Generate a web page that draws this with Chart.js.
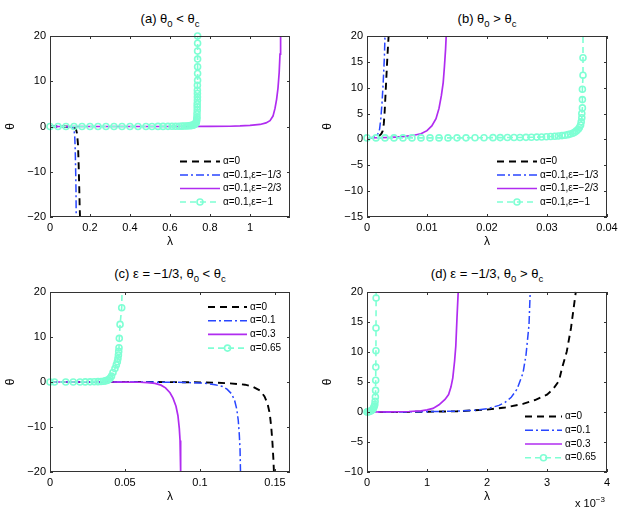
<!DOCTYPE html>
<html><head><meta charset="utf-8">
<script src="https://cdn.jsdelivr.net/npm/chart.js@4.4.1/dist/chart.umd.min.js"></script>
<style>
html,body{margin:0;padding:0;background:#fff;}
body{width:625px;height:510px;position:relative;overflow:hidden;font-family:"Liberation Sans",Arial,sans-serif;color:#000;}
.pane{position:absolute;}
.pane canvas{display:block;}
.ttl{position:absolute;text-align:center;font-size:13px;line-height:15px;white-space:nowrap;}
.ttl sub{font-size:9.5px;vertical-align:-4px;line-height:0;}
.exp{position:absolute;font-size:11px;line-height:13px;white-space:nowrap;}
.exp sup{font-size:8px;vertical-align:5px;line-height:0;}
</style></head><body>
<div class="ttl" style="left:50px;width:240px;top:11px">(a) θ<sub>0</sub> &lt; θ<sub>c</sub></div>
<div class="ttl" style="left:367px;width:240px;top:11px">(b) θ<sub>0</sub> &gt; θ<sub>c</sub></div>
<div class="ttl" style="left:50px;width:240px;top:266px">(c) ε = −1/3, θ<sub>0</sub> &lt; θ<sub>c</sub></div>
<div class="ttl" style="left:367px;width:240px;top:266px">(d) ε = −1/3, θ<sub>0</sub> &gt; θ<sub>c</sub></div>
<div class="pane" style="left:0;top:0"><canvas id="ca" width="310" height="255"></canvas></div>
<div class="pane" style="left:310px;top:0"><canvas id="cb" width="315" height="255"></canvas></div>
<div class="pane" style="left:0;top:255px"><canvas id="cc" width="310" height="255"></canvas></div>
<div class="pane" style="left:310px;top:255px"><canvas id="cd" width="315" height="255"></canvas></div>
<div class="exp" style="left:575px;top:497px">x 10<sup>−3</sup></div>
<script>
// ---------- Panel (a): theta0 < thetac ----------
const aLabels = ['α=0', 'α=0.1,ε=−1/3', 'α=0.1,ε=−2/3', 'α=0.1,ε=−1'];
const aXTicks = [0, 0.2, 0.4, 0.6, 0.8, 1];
const aYTicks = [-20, -10, 0, 10, 20];
const aX0 = [0, 0.05, 0.1, 0.12, 0.13, 0.135, 0.14, 0.143, 0.146, 0.148, 0.15];
const aY0 = [0, 0, -0.05, -0.2, -0.6, -1.5, -4, -8, -13, -17, -20];
const aX1 = [0, 0.05, 0.1, 0.11, 0.117, 0.121, 0.124, 0.126, 0.128, 0.13, 0.131];
const aY1 = [0, 0, -0.05, -0.15, -0.4, -1, -2.5, -5, -9, -14, -20];
const aX2 = [0, 0.2, 0.4, 0.6, 0.8, 0.9, 0.95, 1.0, 1.05, 1.08, 1.1, 1.115, 1.125, 1.133, 1.14, 1.146, 1.15, 1.153];
const aY2 = [0, 0, 0, 0, 0.02, 0.06, 0.12, 0.25, 0.45, 0.8, 1.3, 2.3, 4, 6, 8.5, 12, 16, 20];
const aX3 = [0, 0.04, 0.08, 0.12, 0.16, 0.2, 0.24, 0.28, 0.32, 0.36, 0.4, 0.44, 0.48, 0.51, 0.54, 0.565, 0.59, 0.61, 0.628, 0.645, 0.66, 0.672, 0.683, 0.693, 0.702, 0.709, 0.715, 0.72, 0.724, 0.727, 0.73, 0.732, 0.733, 0.734, 0.735, 0.735, 0.736, 0.736, 0.736, 0.737, 0.737, 0.737, 0.737, 0.737, 0.738, 0.738, 0.738, 0.738, 0.738, 0.738, 0.738];
const aY3 = [0, 0, 0, 0, 0, 0, 0, 0, 0, 0, 0, 0, 0.01, 0.01, 0.02, 0.02, 0.03, 0.04, 0.05, 0.06, 0.08, 0.1, 0.12, 0.15, 0.19, 0.24, 0.3, 0.38, 0.48, 0.6, 0.8, 1.05, 1.3, 1.7, 2.1, 2.8, 3.6, 4.3, 5, 5.8, 6.5, 7.3, 8, 9.1, 10.2, 11.7, 13.2, 14.9, 16.7, 18.4, 20];

// ---------- Panel (b): theta0 > thetac ----------
const bLabels = ['α=0', 'α=0.1,ε=−1/3', 'α=0.1,ε=−2/3', 'α=0.1,ε=−1'];
const bXTicks = [0, 0.01, 0.02, 0.03, 0.04];
const bYTicks = [-15, -10, -5, 0, 5, 10, 15, 20];
const bX0 = [0, 0.001, 0.0017, 0.0021, 0.0024, 0.0026, 0.0028, 0.00295, 0.0031, 0.00325, 0.0034, 0.0036];
const bY0 = [0.3, 0.35, 0.5, 0.75, 1.1, 1.6, 3, 5.5, 9, 12.5, 16, 20];
const bX1 = [0, 0.0008, 0.0013, 0.0016, 0.0019, 0.0021, 0.0023, 0.0025, 0.0027, 0.0029, 0.003];
const bY1 = [0.3, 0.35, 0.5, 0.75, 1.2, 2, 4, 7, 11, 16, 20];
const bX2 = [0, 0.002, 0.004, 0.006, 0.008, 0.009, 0.01, 0.0108, 0.0115, 0.012, 0.0124, 0.0127, 0.0129, 0.0131, 0.0132];
const bY2 = [0.3, 0.32, 0.4, 0.55, 0.85, 1.1, 1.7, 2.6, 4, 6, 8.5, 11, 14, 17.5, 20];
const bX3 = [0, 0.0015, 0.003, 0.0045, 0.006, 0.0075, 0.009, 0.0105, 0.012, 0.0135, 0.015, 0.0165, 0.018, 0.0195, 0.021, 0.0222, 0.0234, 0.0245, 0.0255, 0.0265, 0.0274, 0.0283, 0.0291, 0.0299, 0.0306, 0.0313, 0.0319, 0.0325, 0.033, 0.0335, 0.0339, 0.0343, 0.0346, 0.0349, 0.0352, 0.0354, 0.0356, 0.0357, 0.0358, 0.0358, 0.0359, 0.0359, 0.0359, 0.036, 0.036, 0.036];
const bY3 = [0.3, 0.3, 0.3, 0.3, 0.3, 0.3, 0.3, 0.3, 0.3, 0.3, 0.31, 0.31, 0.32, 0.33, 0.34, 0.35, 0.36, 0.37, 0.38, 0.4, 0.42, 0.45, 0.48, 0.52, 0.56, 0.61, 0.67, 0.74, 0.82, 0.92, 1.05, 1.2, 1.4, 1.65, 1.95, 2.3, 2.8, 3.4, 4.2, 5, 6.1, 7.7, 9.7, 12.4, 15.8, 20];

// ---------- Panel (c): eps = -1/3, theta0 < thetac ----------
const cLabels = ['α=0', 'α=0.1', 'α=0.3', 'α=0.65'];
const cXTicks = [0, 0.05, 0.1, 0.15];
const cYTicks = [-20, -10, 0, 10, 20];
const cX0 = [0, 0.02, 0.04, 0.06, 0.08, 0.1, 0.11, 0.12, 0.13, 0.135, 0.14, 0.143, 0.145, 0.1465, 0.1475, 0.1483, 0.1489, 0.1493];
const cY0 = [0, 0, 0, 0, -0.02, -0.08, -0.15, -0.3, -0.6, -1, -1.9, -3.2, -4.8, -7, -10, -13.5, -17, -20];
const cX1 = [0, 0.02, 0.04, 0.06, 0.08, 0.09, 0.1, 0.105, 0.11, 0.115, 0.118, 0.121, 0.123, 0.1245, 0.1255, 0.1262, 0.1267, 0.127];
const cY1 = [0, 0, 0, 0, -0.05, -0.1, -0.2, -0.35, -0.6, -1, -1.6, -2.6, -4, -6, -8.5, -11.7, -15, -20];
const cX2 = [0, 0.02, 0.04, 0.05, 0.06, 0.065, 0.07, 0.074, 0.077, 0.08, 0.082, 0.084, 0.0853, 0.0862, 0.0867, 0.087, 0.0872];
const cY2 = [0, 0, 0, -0.02, -0.06, -0.12, -0.3, -0.7, -1.3, -2.4, -3.6, -5.4, -7.5, -10.3, -13, -16, -20];
const cX3 = [0, 0.003, 0.0105, 0.0155, 0.02, 0.0235, 0.0267, 0.0295, 0.032, 0.034, 0.0357, 0.037, 0.038, 0.039, 0.04, 0.041, 0.042, 0.0433, 0.0442, 0.0449, 0.0453, 0.0456, 0.0458, 0.046, 0.0462, 0.0467, 0.0478, 0.048];
const cY3 = [0, 0, 0, 0, 0.01, 0.02, 0.03, 0.05, 0.08, 0.12, 0.18, 0.26, 0.36, 0.5, 0.8, 1.3, 2.1, 3, 3.8, 4.5, 5.2, 6, 6.8, 7.6, 9.7, 12.8, 16.5, 20];

// ---------- Panel (d): eps = -1/3, theta0 > thetac ----------
const dLabels = ['α=0', 'α=0.1', 'α=0.3', 'α=0.65'];
const dXTicks = [0, 0.001, 0.002, 0.003, 0.004];
const dYTicks = [-10, -5, 0, 5, 10, 15, 20];
const dX0 = [0, 0.0005, 0.001, 0.0015, 0.002, 0.0023, 0.0026, 0.0028, 0.003, 0.0031, 0.0032, 0.00325, 0.00333, 0.0034, 0.00348];
const dY0 = [0, 0, 0.05, 0.12, 0.4, 0.75, 1.35, 2, 2.9, 3.8, 5.2, 7.3, 10.1, 14, 20];
const dX1 = [0, 0.0005, 0.001, 0.0015, 0.0018, 0.002, 0.0022, 0.0023, 0.0024, 0.0025, 0.0026, 0.00265, 0.0027, 0.00272];
const dY1 = [0, 0, 0.05, 0.15, 0.3, 0.55, 1.1, 1.6, 2.4, 3.8, 6.5, 9.5, 14.5, 20];
const dX2 = [0, 0.0004, 0.0007, 0.0009, 0.001, 0.0011, 0.0012, 0.0013, 0.00136, 0.0014, 0.00143, 0.00146, 0.00148, 0.0015, 0.00152];
const dY2 = [0, 0.02, 0.08, 0.2, 0.35, 0.6, 1.2, 2.1, 2.9, 4.2, 5.7, 8.5, 11, 15.7, 20];
const dX3 = [0, 0.00001, 0.00003, 0.00005, 0.00007, 0.00009, 0.0001, 0.00011, 0.00012, 0.00013, 0.000135, 0.00014, 0.000143, 0.000145, 0.000147, 0.000149, 0.00015, 0.000152, 0.000153];
const dY3 = [0, 0.02, 0.06, 0.12, 0.22, 0.36, 0.5, 0.7, 0.95, 1.25, 1.8, 2.5, 3.6, 5.3, 7.5, 10.2, 14, 19, 20];

// ---------- rendering ----------
const FONT = '"Liberation Sans", Arial, sans-serif';
Chart.defaults.font.family = FONT;
Chart.defaults.color = '#000';
const MARKER_R = 3;

const STYLES = [
  { borderColor: '#000000', borderWidth: 1.9, borderDash: [7, 5], pointRadius: 0, order: 3 },
  { borderColor: '#2846ff', borderWidth: 1.5, borderDash: [8, 3, 2, 3], pointRadius: 0, order: 2 },
  { borderColor: '#b02cf0', borderWidth: 1.7, borderDash: [], pointRadius: 0, order: 1 },
  { borderColor: '#7fffd4', borderWidth: 1.6, borderDash: [6, 4], marker: true, order: 0,
    pointBorderColor: '#7fffd4', pointBackgroundColor: 'rgba(0,0,0,0)', pointBorderWidth: 1.6 }
];

const fmt = v => String(Math.round(v * 1e6) / 1e6).replace('-', '\u2212');

const boxPlugin = {
  id: 'mbox',
  afterDatasetsDraw(chart) {
    const { ctx, chartArea: a, scales } = chart;
    ctx.save();
    ctx.strokeStyle = '#333';
    ctx.lineWidth = 1;
    ctx.setLineDash([]);
    const L = 3;
    ctx.beginPath();
    scales.x.ticks.forEach(t => {
      const p = Math.round(scales.x.getPixelForValue(t.value)) + 0.5;
      ctx.moveTo(p, a.bottom); ctx.lineTo(p, a.bottom - L);
      ctx.moveTo(p, a.top); ctx.lineTo(p, a.top + L);
    });
    scales.y.ticks.forEach(t => {
      const p = Math.round(scales.y.getPixelForValue(t.value)) + 0.5;
      ctx.moveTo(a.left, p); ctx.lineTo(a.left + L, p);
      ctx.moveTo(a.right, p); ctx.lineTo(a.right - L, p);
    });
    ctx.stroke();
    ctx.strokeRect(Math.round(a.left) + 0.5, Math.round(a.top) + 0.5, Math.round(a.right - a.left) - 1, Math.round(a.bottom - a.top) - 1);
    ctx.restore();
  }
};

const legendPlugin = {
  id: 'inlegend',
  afterDraw(chart, args, opts) {
    const ctx = chart.ctx;
    ctx.save();
    ctx.font = '10px ' + FONT;
    ctx.textBaseline = 'middle';
    ctx.textAlign = 'left';
    ctx.fillStyle = '#000';
    chart.data.datasets.forEach((ds, i) => {
      const y = opts.rows[i];
      ctx.strokeStyle = ds.borderColor;
      ctx.lineWidth = ds.borderWidth;
      ctx.setLineDash(ds.borderDash || []);
      ctx.beginPath(); ctx.moveTo(opts.x0, y); ctx.lineTo(opts.x1, y); ctx.stroke();
      if (ds.marker) {
        ctx.setLineDash([]);
        ctx.lineWidth = ds.pointBorderWidth;
        ctx.beginPath(); ctx.arc((opts.x0 + opts.x1) / 2, y, MARKER_R, 0, Math.PI * 2); ctx.stroke();
      }
      ctx.fillText(ds.label, opts.tx, y);
    });
    ctx.restore();
  }
};

function makeSeries(labels, xs, ys, showTopMarker) {
  return labels.map((label, k) => {
    const st = STYLES[k];
    const ds = Object.assign({ label, showLine: true, fill: false, tension: 0,
      clip: { left: 5, top: 5, right: 5, bottom: 5 },
      data: xs[k].map((x, i) => ({ x, y: ys[k][i] })) }, st);
    if (st.marker) {
      const last = xs[k].length - 1;
      ds.pointRadius = c => (c.dataIndex === last && !showTopMarker) ? 0 : MARKER_R;
      ds.pointStyle = 'circle';
    }
    ds.marker = !!st.marker;
    return ds;
  });
}

function makeChart(id, cfg) {
  const canvas = document.getElementById(id);
  const W = canvas.width, H = canvas.height;
  new Chart(canvas, {
    type: 'scatter',
    data: { datasets: makeSeries(cfg.labels, cfg.xs, cfg.ys, cfg.topMarker) },
    options: {
      responsive: false, animation: false, events: [],
      layout: { padding: { left: 0, top: cfg.area.top, right: W - cfg.area.right, bottom: 0 } },
      plugins: { legend: { display: false }, tooltip: { enabled: false }, inlegend: cfg.legend },
      scales: {
        x: {
          type: 'linear', min: cfg.xmin, max: cfg.xmax,
          afterBuildTicks: s => { s.ticks = cfg.xt.map(v => ({ value: v })); },
          afterFit: s => { s.height = H - cfg.area.bottom; },
          grid: { display: false, drawTicks: false }, border: { display: false },
          ticks: { autoSkip: false, maxRotation: 0, padding: 4, font: { size: 11 }, color: '#000',
                   callback: v => fmt(v * (cfg.xscale || 1)) },
          title: { display: true, text: 'λ', font: { size: 12 }, color: '#000', padding: { top: 0, bottom: 6 } }
        },
        y: {
          type: 'linear', min: cfg.ymin, max: cfg.ymax,
          afterBuildTicks: s => { s.ticks = cfg.yt.map(v => ({ value: v })); },
          afterFit: s => { s.width = cfg.area.left; },
          grid: { display: false, drawTicks: false }, border: { display: false },
          ticks: { autoSkip: false, padding: 4, font: { size: 11 }, color: '#000', callback: v => fmt(v) },
          title: { display: true, text: 'θ', font: { size: 12 }, color: '#000', padding: { top: cfg.ytitle, bottom: 0 } }
        }
      }
    },
    plugins: [boxPlugin, legendPlugin]
  });
}

makeChart('ca', {
  labels: aLabels, xs: [aX0, aX1, aX2, aX3], ys: [aY0, aY1, aY2, aY3], topMarker: true,
  xmin: 0, xmax: 1.2, ymin: -20, ymax: 20, xt: aXTicks, yt: aYTicks,
  area: { left: 50, right: 290, top: 36, bottom: 217 }, ytitle: 3,
  legend: { x0: 180, x1: 220, tx: 223, rows: [161.5, 175, 188.5, 202] }
});
makeChart('cb', {
  labels: bLabels, xs: [bX0, bX1, bX2, bX3], ys: [bY0, bY1, bY2, bY3], topMarker: false,
  xmin: 0, xmax: 0.04, ymin: -15, ymax: 20, xt: bXTicks, yt: bYTicks,
  area: { left: 57, right: 297, top: 36, bottom: 217 }, ytitle: 10,
  legend: { x0: 187, x1: 227, tx: 230, rows: [161.5, 175, 188.5, 202] }
});
makeChart('cc', {
  labels: cLabels, xs: [cX0, cX1, cX2, cX3], ys: [cY0, cY1, cY2, cY3], topMarker: false,
  xmin: 0, xmax: 0.16, ymin: -20, ymax: 20, xt: cXTicks, yt: cYTicks,
  area: { left: 50, right: 290, top: 37, bottom: 217 }, ytitle: 3,
  legend: { x0: 208, x1: 247, tx: 250, rows: [52, 65.7, 79.4, 93.1] }
});
makeChart('cd', {
  labels: dLabels, xs: [dX0, dX1, dX2, dX3], ys: [dY0, dY1, dY2, dY3], topMarker: false,
  xmin: 0, xmax: 0.004, ymin: -10, ymax: 20, xt: dXTicks, yt: dYTicks, xscale: 1000,
  area: { left: 57, right: 297, top: 37, bottom: 217 }, ytitle: 10,
  legend: { x0: 215, x1: 252, tx: 255, rows: [161.5, 175.2, 189, 202.7] }
});
</script>
</body></html>
